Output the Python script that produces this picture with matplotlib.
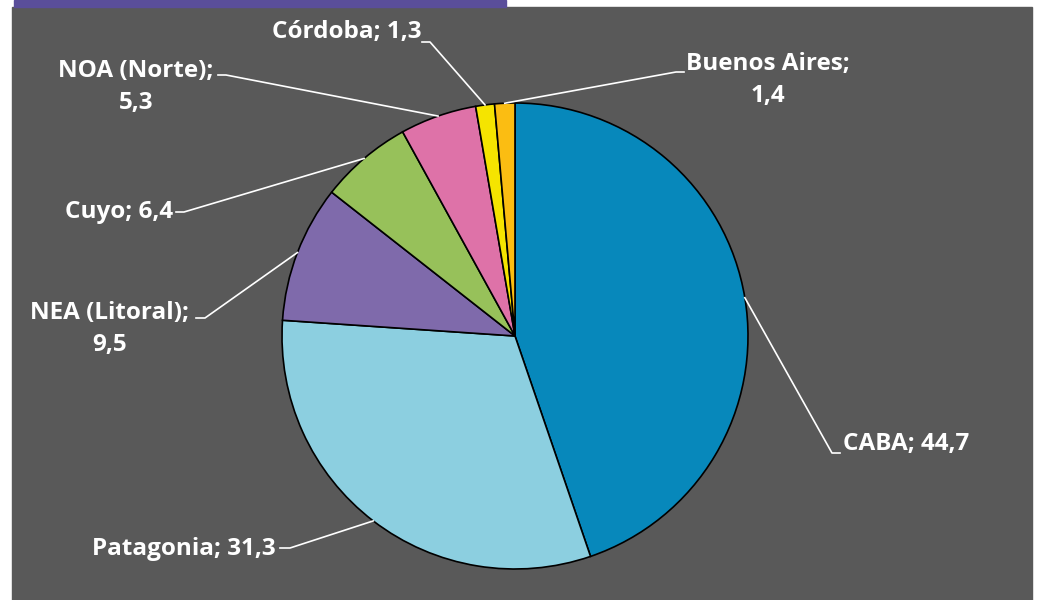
import numpy as np
import matplotlib
matplotlib.use("Agg")
import matplotlib.pyplot as plt
from matplotlib.patches import Rectangle

regions = ["CABA", "Patagonia", "NEA (Litoral)", "Cuyo", "NOA (Norte)", "Córdoba", "Buenos Aires"]
values = [44.7, 31.3, 9.5, 6.4, 5.3, 1.3, 1.4]
colors = ["#0788bb", "#8ccfe0", "#7f6aab", "#97c15a", "#de72a8", "#f5e400", "#fbbd12"]
label_text = ["CABA; 44,7", "Patagonia; 31,3", "NEA (Litoral);\n9,5", "Cuyo; 6,4",
              "NOA (Norte);\n5,3", "Córdoba; 1,3", "Buenos Aires;\n1,4"]

W, H = 1039, 600
CX, CY, R = 515, 336, 233

# label layout in pixel coords (top-left origin): text anchor, ha, elbow, tick end
layout = [
    ((843, 444), "left", (832, 453), (840, 453)),
    ((276, 549), "right", (290, 548), (280, 548)),
    ((110, 329), "center", (205, 318), (196, 318)),
    ((173, 212), "right", (184, 212), (176, 212)),
    ((136, 87), "center", (226, 75), (218, 75)),
    ((421, 32), "right", (430, 42), (422, 42)),
    ((768, 80), "center", (676, 72), (684, 72)),
]

plt.rcParams["font.family"] = ["Open Sans", "DejaVu Sans"]

fig = plt.figure(figsize=(W / 100, H / 100), dpi=100, facecolor="white")
ax = fig.add_axes([0, 0, 1, 1])
ax.set_xlim(0, W)
ax.set_ylim(0, H)
ax.axis("off")

# background panel and purple band
ax.add_patch(Rectangle((12, 0), 1020, H - 7, color="#595959", zorder=0))
ax.add_patch(Rectangle((14, H - 7), 492, 7, color="#5a4e9a", zorder=0))

wedges, _ = ax.pie(values, colors=colors, startangle=90, counterclock=False,
                   center=(CX, H - CY), radius=R,
                   wedgeprops=dict(edgecolor="black", linewidth=1.2))
ax.set_xlim(0, W)
ax.set_ylim(0, H)
ax.set_aspect("equal")

for w, txt, (pos, ha, elbow, tick) in zip(wedges, label_text, layout):
    mid = np.deg2rad((w.theta1 + w.theta2) / 2)
    ex = CX + R * np.cos(mid)
    ey = (H - CY) + R * np.sin(mid)
    ax.plot([ex, elbow[0], tick[0]], [ey, H - elbow[1], H - tick[1]],
            color="white", lw=1.2, zorder=3)
    ax.text(pos[0], H - pos[1], txt, ha=ha, va="center", multialignment="center",
            color="white", fontsize=17.5, fontweight="bold", linespacing=1.45, zorder=4)

fig.savefig("out.png", dpi=100, facecolor="white")
